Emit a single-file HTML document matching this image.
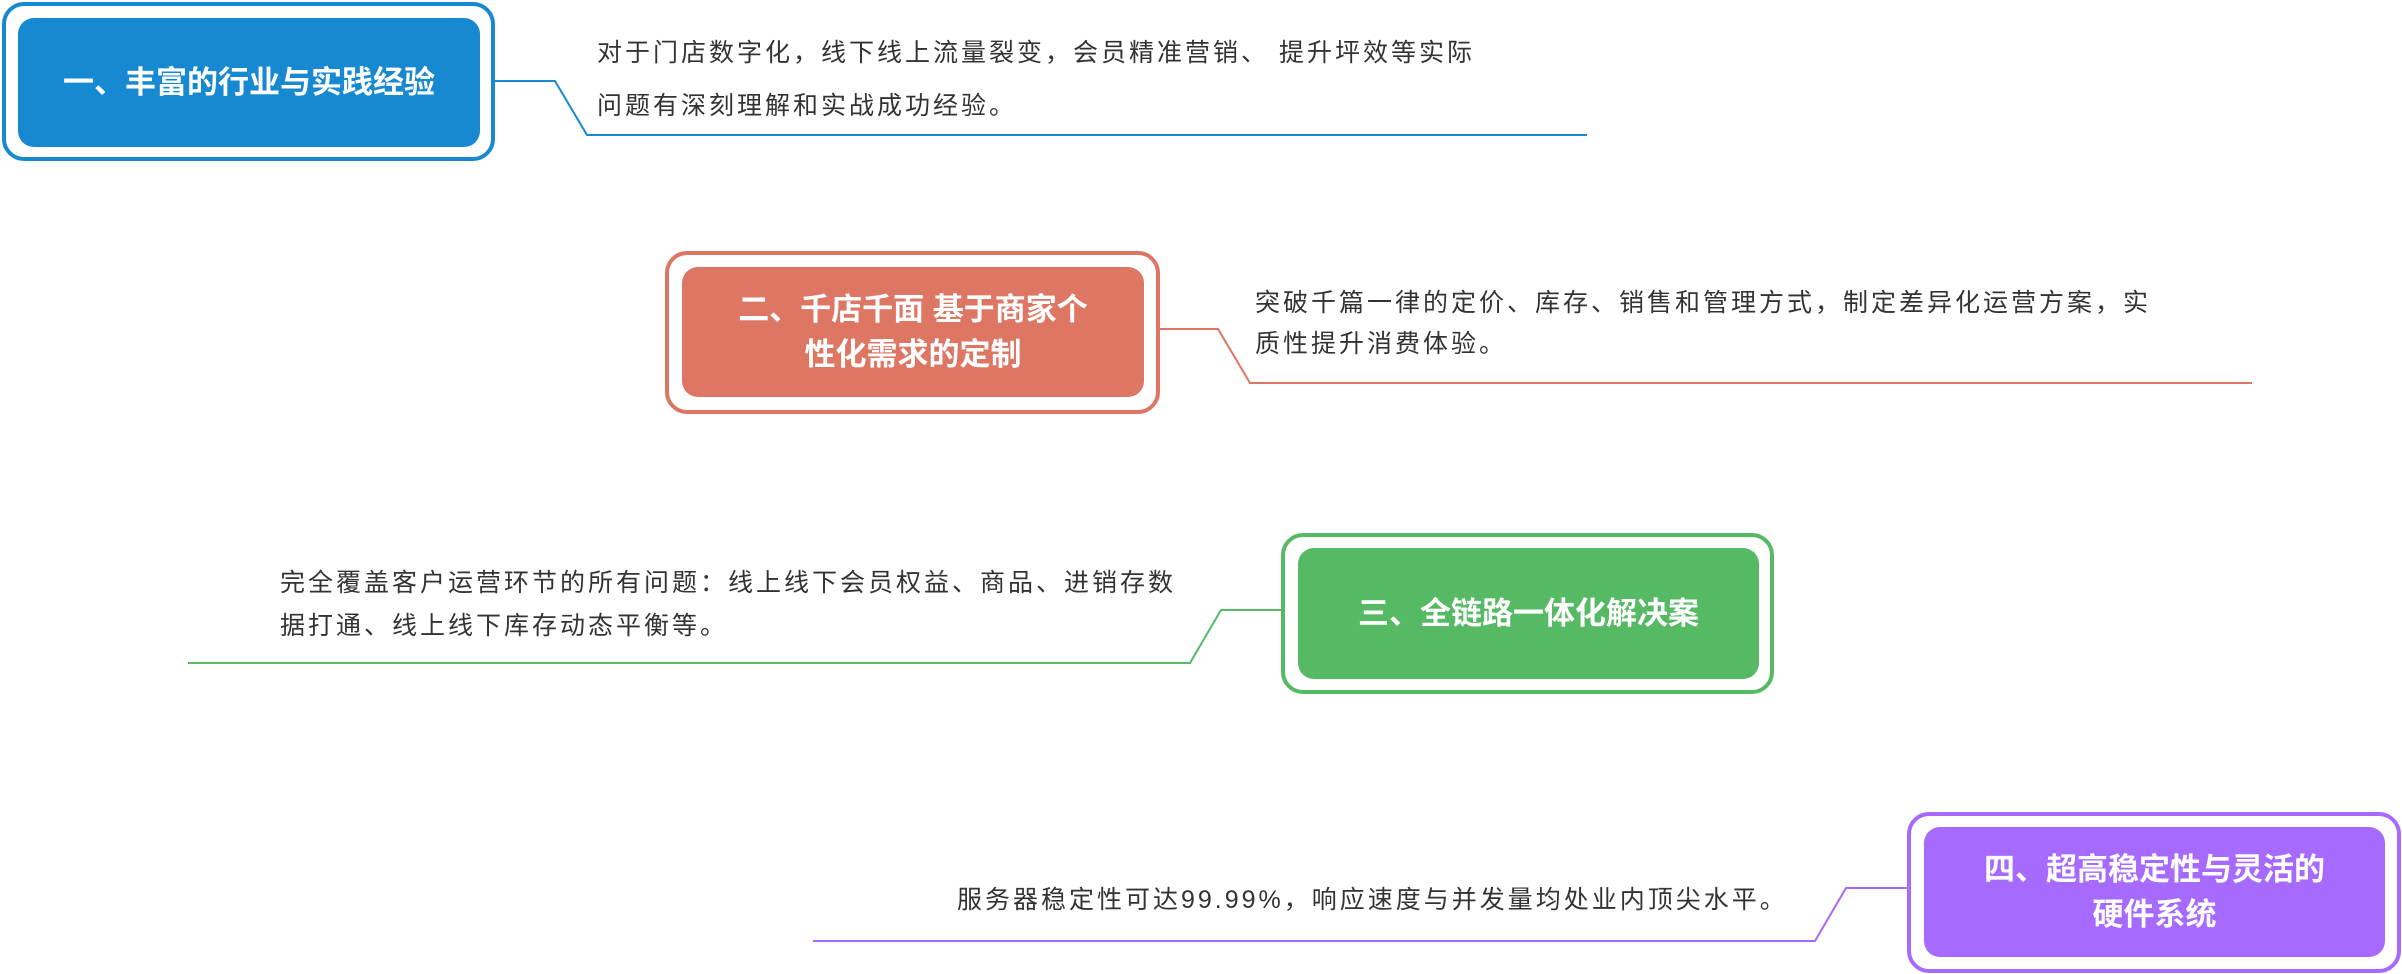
<!DOCTYPE html>
<html><head><meta charset="utf-8"><style>
body{margin:0;width:2402px;height:974px;background:#fff;position:relative;overflow:hidden;font-family:"Liberation Sans","Noto Sans CJK SC",sans-serif}
.o{position:absolute;box-sizing:border-box;border:4px solid;border-radius:22px;background:#fff}
.i{position:absolute;box-sizing:border-box;border-radius:16px;color:#fff;font-weight:bold;font-size:31px;display:flex;align-items:center;justify-content:center;text-align:center;line-height:45px}
.t{position:absolute;color:#333;font-size:25px;letter-spacing:3px;line-height:42px;white-space:nowrap}
svg{position:absolute;left:0;top:0}
</style></head><body>
<svg width="2402" height="974" fill="none" stroke-width="2">
<polyline points="493,81 555,81 587,135 1587,135" stroke="#1789D0"/>
<polyline points="1160,329 1218,329 1250,383 2252,383" stroke="#DD7663"/>
<polyline points="1281,610 1221,610 1190,663 188,663" stroke="#56BA64"/>
<polyline points="1907,888 1846,888 1815,941 813,941" stroke="#A66AFF"/>
</svg>
<div class="o" style="left:2px;top:2px;width:493px;height:159px;border-color:#1789D0"></div>
<div class="i" style="left:18px;top:18px;width:462px;height:129px;background:#1789D0">一、丰富的行业与实践经验</div>
<div class="t" style="left:597px;top:32px">对于门店数字化，线下线上流量裂变，会员精准营销、 提升坪效等实际</div>
<div class="t" style="left:597px;top:85px">问题有深刻理解和实战成功经验。</div>

<div class="o" style="left:665px;top:251px;width:495px;height:163px;border-color:#DD7663"></div>
<div class="i" style="left:682px;top:267px;width:462px;height:130px;background:#DD7663">二、千店千面 基于商家个<br>性化需求的定制</div>
<div class="t" style="left:1255px;top:282px">突破千篇一律的定价、库存、销售和管理方式，制定差异化运营方案，实</div>
<div class="t" style="left:1255px;top:323px">质性提升消费体验。</div>

<div class="o" style="left:1281px;top:533px;width:493px;height:161px;border-color:#56BA64"></div>
<div class="i" style="left:1298px;top:548px;width:461px;height:131px;background:#56BA64">三、全链路一体化解决案</div>
<div class="t" style="left:280px;top:562px">完全覆盖客户运营环节的所有问题：线上线下会员权益、商品、进销存数</div>
<div class="t" style="left:280px;top:605px">据打通、线上线下库存动态平衡等。</div>

<div class="o" style="left:1907px;top:812px;width:494px;height:161px;border-color:#A66AFF"></div>
<div class="i" style="left:1924px;top:827px;width:461px;height:130px;background:#A66AFF">四、超高稳定性与灵活的<br>硬件系统</div>
<div class="t" style="left:957px;top:879px">服务器稳定性可达99.99%，响应速度与并发量均处业内顶尖水平。</div>
</body></html>
